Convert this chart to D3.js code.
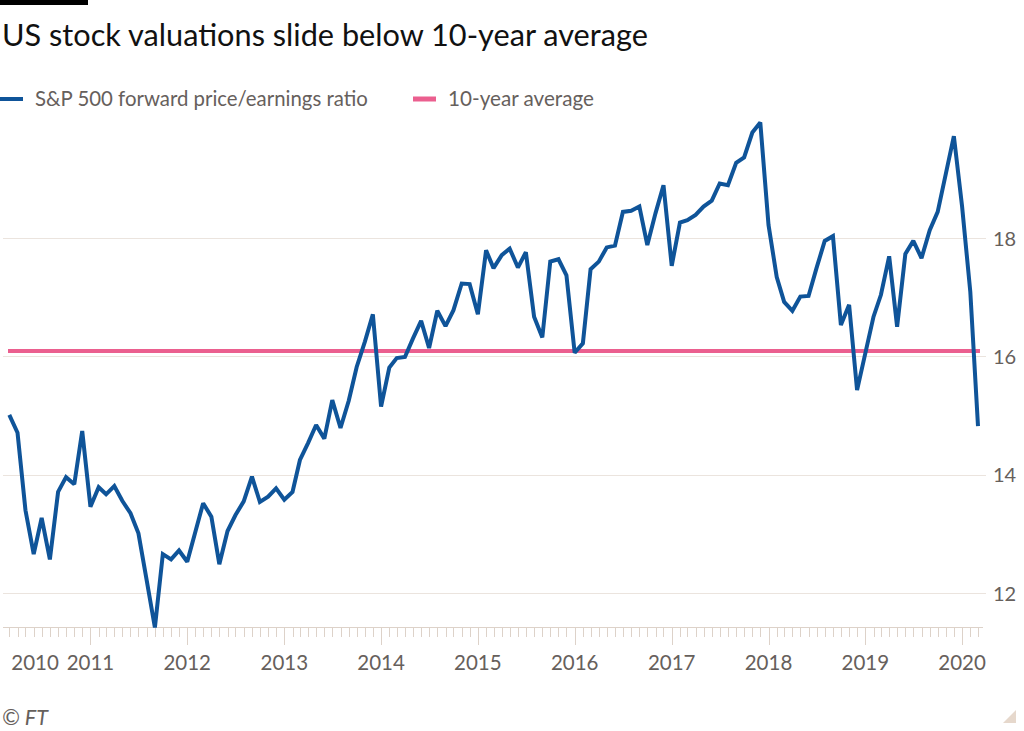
<!DOCTYPE html>
<html>
<head>
<meta charset="utf-8">
<style>
  body { margin: 0; background: #fff; }
  svg { display: block; font-family: Lato, "Open Sans", sans-serif; }
</style>
</head>
<body>
<svg width="1024" height="731"></svg>
<script src="https://d3js.org/d3.v7.min.js"></script>
<script>

// monthly forward P/E, Mar 2010 .. Mar 2020
var startMonth = '2010-03'
var peValues = [
  15.01, 14.71, 13.40, 12.66, 13.27, 12.57, 13.71, 13.96, 13.84, 14.74,
  13.46, 13.79, 13.67, 13.81, 13.56, 13.35, 13.01, 12.22, 11.42, 12.66,
  12.57, 12.72, 12.53, 13.04, 13.52, 13.29, 12.49, 13.05, 13.32, 13.55,
  13.97, 13.54, 13.63, 13.77, 13.58, 13.71, 14.25, 14.54, 14.84, 14.61,
  15.26, 14.79, 15.25, 15.82, 16.25, 16.71, 15.15, 15.81, 15.97, 15.99,
  16.30, 16.60, 16.14, 16.77, 16.51, 16.78, 17.23, 17.22, 16.71, 17.79,
  17.49, 17.71, 17.82, 17.50, 17.76, 16.67, 16.32, 17.60, 17.64, 17.37,
  16.06, 16.22, 17.47, 17.60, 17.84, 17.87, 18.44, 18.46, 18.53, 17.88,
  18.42, 18.89, 17.53, 18.26, 18.30, 18.39, 18.53, 18.63, 18.92, 18.89,
  19.27, 19.36, 19.78, 19.95, 18.22, 17.34, 16.92, 16.77, 17.01, 17.02,
  17.49, 17.95, 18.03, 16.53, 16.87, 15.43, 16.05, 16.67, 17.04, 17.69,
  16.50, 17.73, 17.95, 17.66, 18.13, 18.44, 19.09, 19.72, 18.53, 17.09,
  14.82
]
var tenYearAvg = 16.09
var yTicks = [12, 14, 16, 18]
var yearLabels = ['2010', '2011', '2012', '2013', '2014', '2015', '2016', '2017', '2018', '2019', '2020']
var legendLabels = ['S&P 500 forward price/earnings ratio', '10-year average']

var blue = '#0f5499'
var pink = '#eb5f8f'
var grey = '#66605c'
var grid = '#ebe4de'
var tickCol = '#ddd2c9'

var parseMonth = d3.timeParse('%Y-%m')
var first = parseMonth(startMonth)
var data = peValues.map(function (v, i) {
  return { date: d3.timeMonth.offset(first, i), value: v }
})

var svg = d3.select('svg')

// shrink/grow a text so it spans the given width
function fitWidth(sel, w) {
  sel.each(function () {
    var fs = parseFloat(this.getAttribute('font-size'))
    var len = this.getComputedTextLength()
    this.setAttribute('font-size', (fs * w / len).toFixed(2))
  })
}

var x = d3.scaleTime()
  .domain(d3.extent(data, function (d) { return d.date }))
  .range([9.3, 978])

var y = d3.scaleLinear()
  .domain(d3.extent(data, function (d) { return d.value }))
  .range([627.5, 122.5])

// top bar + title
svg.append('rect').attr('x', 0).attr('y', 0).attr('width', 88).attr('height', 5).attr('fill', '#000')
svg.append('text')
  .attr('x', 2).attr('y', 46)
  .attr('font-size', 29).attr('fill', '#111')
  .text('US stock valuations slide below 10-year average')
  .call(fitWidth, 646)

// legend
var legendX = [0, 413]
var legendTextW = [333, 146]
var legendCol = [blue, pink]
legendLabels.forEach(function (lab, i) {
  svg.append('line')
    .attr('x1', legendX[i]).attr('x2', legendX[i] + 23)
    .attr('y1', 99).attr('y2', 99)
    .attr('stroke', legendCol[i]).attr('stroke-width', i ? 5 : 4)
  svg.append('text')
    .attr('x', legendX[i] + 35).attr('y', 106)
    .attr('font-size', 19).attr('fill', grey)
    .text(lab)
    .call(fitWidth, legendTextW[i])
})

// gridlines + y labels (right side)
var gy = svg.append('g')
gy.selectAll('line').data(yTicks).enter().append('line')
  .attr('x1', 3).attr('x2', 986)
  .attr('y1', function (d) { return Math.round(y(d)) + 0.5 })
  .attr('y2', function (d) { return Math.round(y(d)) + 0.5 })
  .attr('stroke', grid).attr('stroke-width', 1)
gy.selectAll('text').data(yTicks).enter().append('text')
  .attr('x', 993)
  .attr('y', function (d) { return y(d) })
  .attr('dy', '0.38em')
  .attr('font-size', 20).attr('fill', grey)
  .text(function (d) { return d })

// x axis: month ticks, longer at each year
var ax = svg.append('g')
ax.append('line')
  .attr('x1', 3).attr('x2', 983).attr('y1', 627.5).attr('y2', 627.5)
  .attr('stroke', tickCol)
ax.selectAll('line.tick').data(data.map(function (d) { return d.date })).enter().append('line')
  .attr('class', 'tick')
  .attr('x1', function (d) { return Math.round(x(d)) + 0.5 })
  .attr('x2', function (d) { return Math.round(x(d)) + 0.5 })
  .attr('y1', 627.5)
  .attr('y2', function (d) { return d.getMonth() === 0 ? 645 : 637 })
  .attr('stroke', tickCol)

ax.selectAll('text').data(yearLabels).enter().append('text')
  .attr('x', function (d, i) { return i === 0 ? x(first) + 2 : x(parseMonth(d + '-01')) })
  .attr('y', 670)
  .attr('text-anchor', function (d, i) { return i === 0 ? 'start' : 'middle' })
  .attr('font-size', 20.5).attr('fill', grey)
  .text(function (d) { return d })

// 10-year average
svg.append('line')
  .attr('x1', 8).attr('x2', 980)
  .attr('y1', y(tenYearAvg)).attr('y2', y(tenYearAvg))
  .attr('stroke', pink).attr('stroke-width', 4)

// P/E line
var line = d3.line()
  .x(function (d) { return x(d.date) })
  .y(function (d) { return y(d.value) })

svg.append('path')
  .datum(data)
  .attr('d', line)
  .attr('fill', 'none')
  .attr('stroke', blue)
  .attr('stroke-width', 4)
  .attr('stroke-linejoin', 'miter')
  .attr('stroke-miterlimit', 2)

// source + corner mark
svg.append('text')
  .attr('x', 2).attr('y', 725)
  .attr('font-size', 18).attr('font-style', 'italic').attr('fill', grey)
  .text('© FT')
  .call(fitWidth, 46)
svg.append('path')
  .attr('d', 'M1003,723L1016,710L1016,723Z')
  .attr('fill', '#e6d8cc')

</script>
</body>
</html>
